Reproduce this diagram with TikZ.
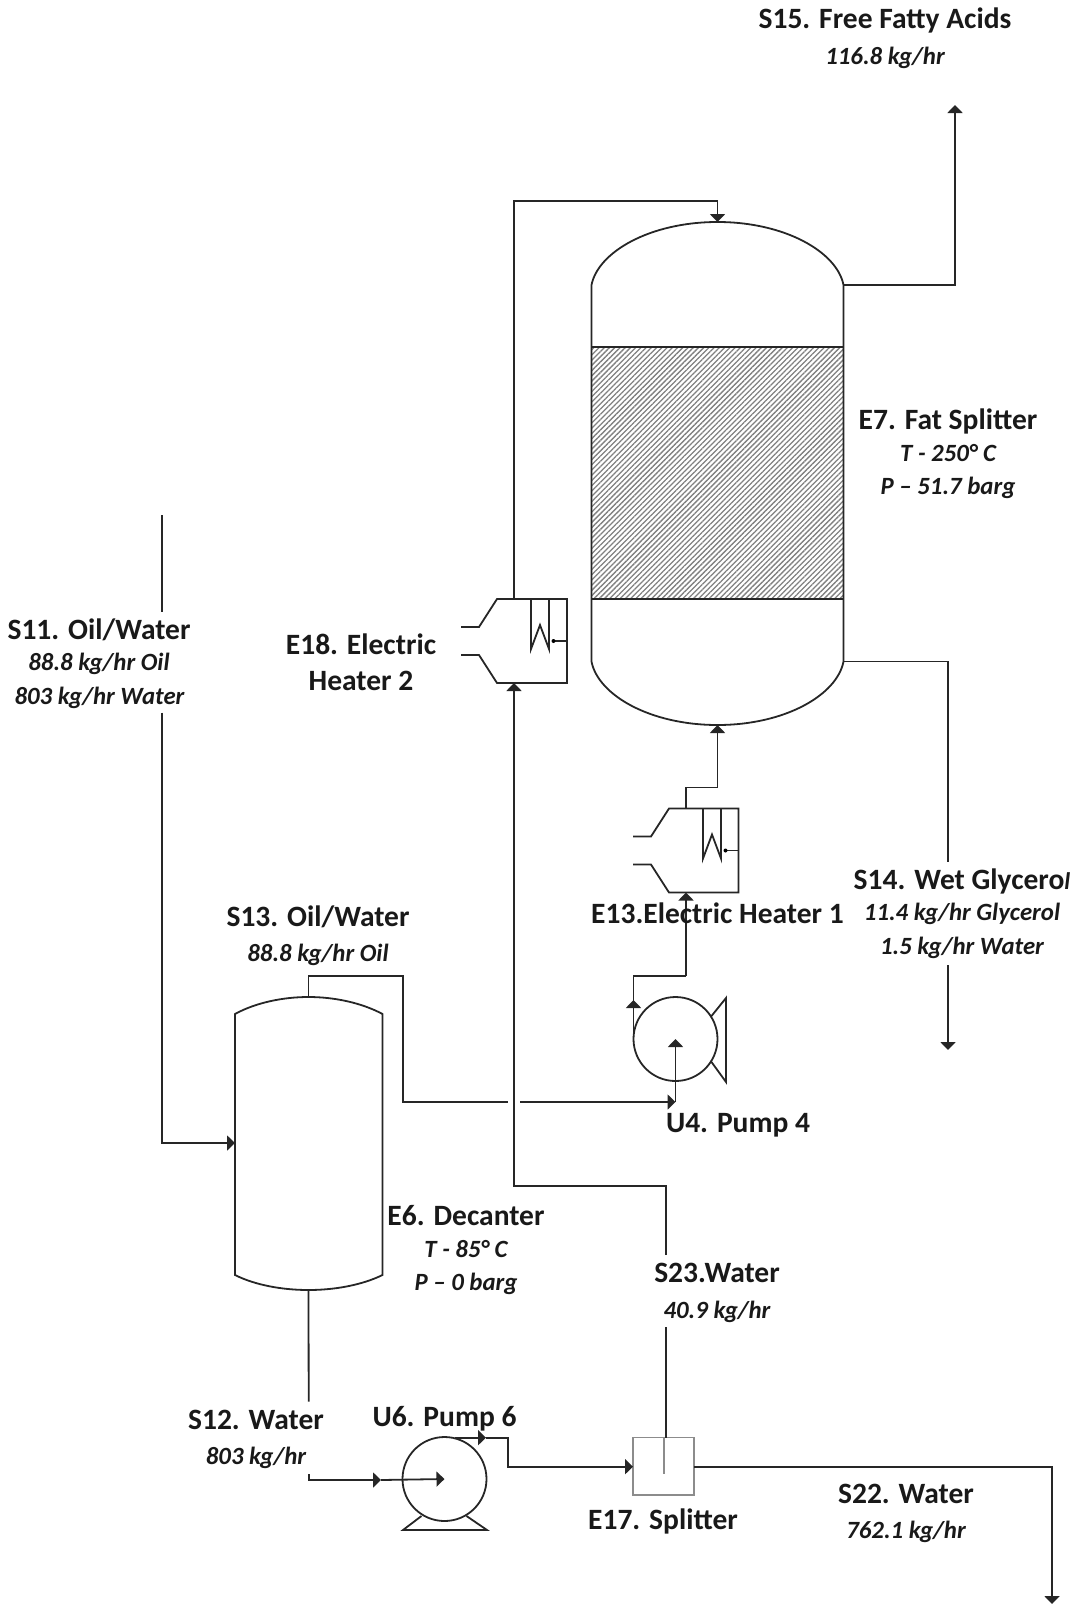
\documentclass[tikz,border=0pt]{standalone}
\usepackage{fontspec}
\setmainfont{Carlito}
\usetikzlibrary{arrows.meta,patterns.meta}
\tikzset{
  pipe/.style={line width=1.8pt,draw=black!85,line join=miter},
  flow/.style={pipe,-{Triangle[length=8pt,width=15pt]}},
  vessel/.style={line width=1.8pt,draw=black!85},
  title/.style={font=\fontsize{29.5}{32}\selectfont\bfseries,text=black!90,inner sep=0pt},
  sub/.style={font=\fontsize{24.8}{28}\selectfont\bfseries\itshape,text=black!90,inner sep=0pt},
}
\begin{document}
\begin{tikzpicture}[x=1pt,y=-1pt]
\useasboundingbox (0,0) rectangle (1077,1606);
% ---- equipment anchors
\coordinate (colTop) at (717.5,222);
\coordinate (colBot) at (717.5,725);
\coordinate (colR1) at (843.5,285);
\coordinate (colR2) at (843.5,661.5);
\coordinate (h2Top) at (514,599);
\coordinate (h2Bot) at (514,683);
\coordinate (h1Top) at (686,808.5);
\coordinate (h1Bot) at (686,892.5);
\coordinate (pu4Out) at (633.5,1040);
\coordinate (pu4C) at (675.5,1039);
\coordinate (decTop) at (308.5,997);
\coordinate (decBot) at (308.5,1290);
\coordinate (decL) at (235,1143);
\coordinate (pu6C) at (444.5,1479);
\coordinate (pu6Out) at (455,1437.7);
\coordinate (splL) at (633,1466.7);
\coordinate (splR) at (694,1466.7);
\coordinate (splTop) at (666,1437.7);
% free ends and line breaks
\coordinate (s15End) at (955,105);
\coordinate (s14a) at (948,862);
\coordinate (s14b) at (948,965);
\coordinate (s14End) at (948,1050);
\coordinate (s11Start) at (162,515);
\coordinate (s11a) at (162,612);
\coordinate (s11b) at (162,712.7);
\coordinate (s23a) at (666,1327);
\coordinate (s23b) at (666,1255);
\coordinate (s13a) at (507.7,1102);
\coordinate (s13b) at (520,1102);
\coordinate (s12a) at (308.7,1401.7);
\coordinate (s12b) at (308.7,1474);
\coordinate (s22End) at (1052,1604);
% ---- Fat splitter column
\fill[pattern={Lines[angle=45,distance=3.7pt,line width=1.3pt]},pattern color=black!50] (591.5,347) rectangle (843.5,599);
\draw[vessel] (591.5,285) .. controls (598,252) and (650,222) .. (colTop) .. controls (785,222) and (837,252) .. (colR1)
  -- (colR2) .. controls (837,695) and (785,725) .. (colBot) .. controls (650,725) and (598,695) .. (591.5,661.5) -- cycle;
\draw[vessel] (591.5,347) -- (843.5,347) (591.5,599) -- (843.5,599);
% ---- Decanter
\draw[vessel] (235,1014) .. controls (255,1003) and (282,997) .. (decTop) .. controls (335,997) and (362,1003) .. (382.5,1014)
  -- (382.5,1275) .. controls (362,1285) and (335,1290) .. (decBot) .. controls (282,1290) and (255,1285) .. (235,1275) -- cycle;
% ---- Electric heater 2
\draw[pipe] (461,627) -- (479,627) -- (497,599) -- (567,599) -- (567,683) -- (497,683) -- (479,655) -- (461,655);
\draw[pipe] (531,599) -- (531,649) -- (540,625) -- (549,649) -- (549,599);
\draw[pipe] (567,641) -- (553.5,641);
\fill (553.5,641) circle (2pt);
% ---- Electric heater 1
\draw[pipe] (633,836.5) -- (651,836.5) -- (669,808.5) -- (738.5,808.5) -- (738.5,892.5) -- (669,892.5) -- (651,864.5) -- (633,864.5);
\draw[pipe] (703,808.5) -- (703,858.5) -- (712,834.5) -- (721,858.5) -- (721,808.5);
\draw[pipe] (738.5,850.5) -- (725.5,850.5);
\fill (725.5,850.5) circle (2pt);
% ---- Pump 4
\draw[vessel] (pu4C) circle (42pt);
\draw[vessel] (711.5,1016) -- (726,998) -- (726,1082) -- (711.5,1062);
% ---- Pump 6
\draw[vessel] (pu6C) circle (42pt);
\draw[vessel] (421.5,1516) -- (403,1530) -- (487,1530) -- (466.5,1516);
% ---- Splitter
\draw[line width=1.3pt,draw=black!45] (633,1437.7) rectangle (694,1495);
\draw[line width=1.3pt,draw=black!45] (664,1437.7) -- (664,1474);
% ---- connectors
\draw[pipe] (h2Top) -- (514,201) -| (717.5,212);
\draw[flow] (717.5,201) -- (colTop);
\draw[flow] (colR1) -| (s15End);
\draw[pipe] (colR2) -| (s14a);
\draw[flow] (s14b) -- (s14End);
\draw[pipe] (s11Start) -- (s11a);
\draw[flow] (s11b) |- (decL);
\draw[flow] (h1Top) -- (686,787.5) -| (colBot);
\draw[flow] (686,976) -- (h1Bot);
\draw[pipe] (686,976) -- (633.5,976) -- (pu4Out);
\draw[flow] (633.5,1040) -- (633.5,1000);
\draw[pipe] (decTop) -- (308.5,976) -| (403,1102) -- (s13a);
\draw[flow] (s13b) -- (675.5,1102);
\draw[flow] (675.5,1102) -- (675.5,1039);
\draw[pipe] (splTop) -- (s23a);
\draw[flow] (s23b) -- (666,1186) -| (h2Bot);
\draw[pipe] (decBot) -- (s12a);
\draw[flow] (s12b) |- (381,1480);
\draw[flow] (381,1480) -- (pu6C);
\draw[flow] (pu6Out) -- (486,1437.7);
\draw[flow] (486,1437.7) -- (507.7,1437.7) |- (splL);
\draw[flow] (splR) -| (s22End);
% ---- labels
\node[title] (t15) at (885,20) {S15. Free Fatty Acids};
\node[sub] (t15a) at (885,58) {116.8 kg/hr};
\node[title] (t7) at (948,421) {E7. Fat Splitter};
\node[sub] (t7a) at (948,453.5) {T - 250° C};
\node[sub] (t7b) at (948,488) {P – 51.7 barg};
\node[title] (t11) at (99,630) {S11. Oil/Water};
\node[sub] (t11a) at (99,664) {88.8 kg/hr Oil};
\node[sub] (t11b) at (99.5,698) {803 kg/hr Water};
\node[title] (t18a) at (361,644.5) {E18. Electric};
\node[title] (t18b) at (361,681) {Heater 2};
\node[title] (t13) at (717.5,913) {E13.Electric Heater 1};
\node[title] (t14) at (962,881) {S14. Wet Glycero{\fontsize{24}{26}\selectfont\itshape l}};
\node[sub] (t14a) at (962,914) {11.4 kg/hr Glycerol};
\node[sub] (t14b) at (962,948) {1.5 kg/hr Water};
\node[title] (ts13) at (318,917) {S13. Oil/Water};
\node[sub] (ts13a) at (318,955) {88.8 kg/hr Oil};
\node[title] (tu4) at (738,1125) {U4. Pump 4};
\node[title] (t6) at (466,1216) {E6. Decanter};
\node[sub] (t6a) at (466,1249.5) {T - 85° C};
\node[sub] (t6b) at (466,1284) {P – 0 barg};
\node[title] (t23) at (717,1273) {S23.Water};
\node[sub] (t23a) at (717,1312) {40.9 kg/hr};
\node[title] (t12) at (256,1420) {S12. Water};
\node[sub] (t12a) at (256,1458) {803 kg/hr};
\node[title] (tu6) at (444.5,1419) {U6. Pump 6};
\node[title] (t17) at (663,1521) {E17. Splitter};
\node[title] (t22) at (906,1494) {S22. Water};
\node[sub] (t22a) at (906,1532) {762.1 kg/hr};
\end{tikzpicture}
\end{document}
